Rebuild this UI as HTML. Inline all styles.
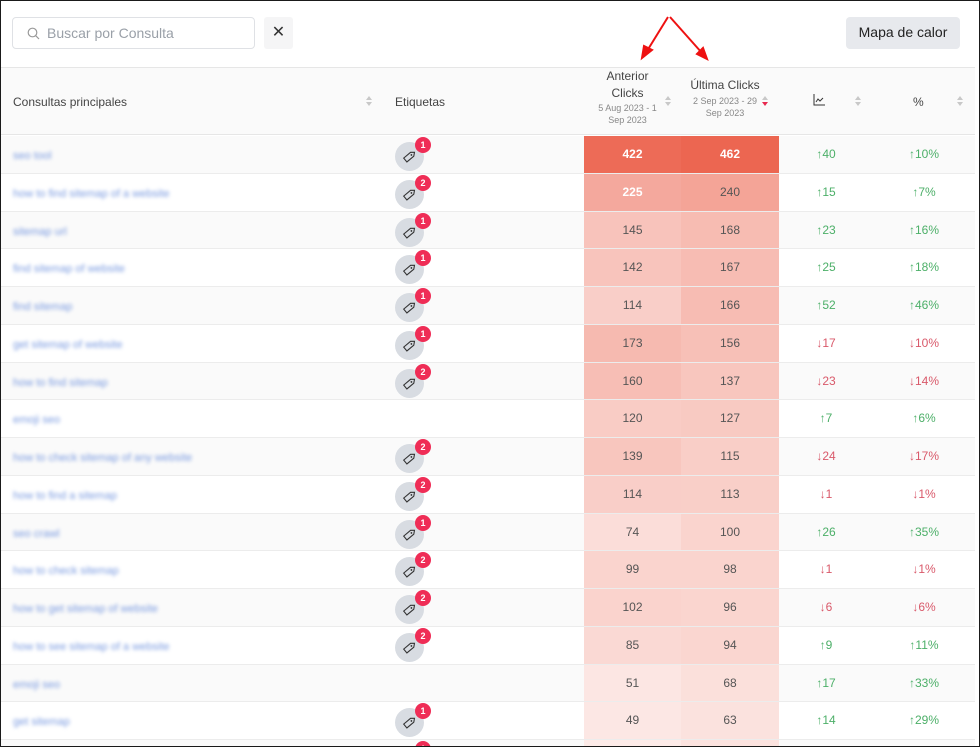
<!DOCTYPE html>
<html><head><meta charset="utf-8">
<style>
*{box-sizing:border-box;margin:0;padding:0}
html,body{width:980px;height:747px;overflow:hidden}
body{background:#fff;font-family:"Liberation Sans",sans-serif;position:relative}
#wrap{position:absolute;left:0;top:0;width:980px;height:747px;overflow:hidden}
#frame{position:absolute;left:0;top:0;width:980px;height:747px;border:1px solid #1a1a1a;pointer-events:none;z-index:10}
.abs{position:absolute}
#search{left:12px;top:17px;width:243px;height:32px;border:1px solid #dfe1e5;border-radius:4px}
#search span{position:absolute;left:34px;top:7px;font-size:14px;color:#9aa0a8}
#clear{left:264px;top:17px;width:29px;height:32px;background:#f5f5f6;border-radius:3px;font-size:16px;color:#333;text-align:center;line-height:31px}
#heat{left:846px;top:17px;width:114px;height:32px;background:#e7e9ed;border-radius:4px;font-size:14px;color:#222;text-align:center;line-height:31px}
#thead{left:0;top:67px;width:975px;height:68px;background:#fafafa;border-top:1px solid #e6e6e6;border-bottom:1px solid #e6e6e6}
.th{position:absolute;font-size:12px;color:#444}
.sub{font-size:9px;color:#888;line-height:12px}
.sort{position:absolute;width:7px;height:12px}
.sort:before{content:"";position:absolute;left:0;top:0;border-left:3.5px solid transparent;border-right:3.5px solid transparent;border-bottom:4px solid #c8c8c8}
.sort:after{content:"";position:absolute;left:0;top:6px;border-left:3.5px solid transparent;border-right:3.5px solid transparent;border-top:4px solid #c8c8c8}
.sort.act:after{border-top-color:#e8294f}
.row{position:absolute;left:0;width:975px;border-bottom:1px solid #ececec}
.q{position:absolute;left:13px;top:2px;font-size:11px;color:#7b9be0;filter:blur(1.8px)}
.cell{position:absolute;top:0;height:100%;font-size:12px;color:#555;text-align:center}
.tag{position:absolute;left:395px;width:29px;height:29px;border-radius:50%;background:#d8dce2}
.badge{position:absolute;left:415px;width:16px;height:16px;border-radius:50%;background:#ef2d56;color:#fff;font-size:9px;font-weight:bold;text-align:center;line-height:16px}
.up{color:#4caf68}.dn{color:#d9596a}
</style></head><body>
<div id="wrap">
<div id="frame"></div>
<div id="search" class="abs">
<svg style="position:absolute;left:14px;top:9px" width="13" height="13" viewBox="0 0 13 13"><circle cx="5.5" cy="5.5" r="4.3" fill="none" stroke="#999" stroke-width="1.2"/><line x1="8.6" y1="8.6" x2="12" y2="12" stroke="#999" stroke-width="1.2"/></svg>
<span>Buscar por Consulta</span></div>
<div id="clear" class="abs">✕</div>
<div id="heat" class="abs">Mapa de calor</div>
<svg class="abs" style="left:630px;top:14px" width="80" height="50">
<g stroke="#e11" stroke-width="2" fill="#e11"><line x1="38" y1="3" x2="17" y2="37"/><polygon points="12,44 14,32 22,36"/><line x1="40" y1="3" x2="72" y2="39"/><polygon points="77,45 67,40 73,34"/></g></svg>
<div id="thead" class="abs">
<div class="th" style="left:13px;top:27px">Consultas principales</div>
<div class="sort" style="left:366px;top:28px"></div>
<div class="th" style="left:395px;top:27px">Etiquetas</div>
<div class="th" style="left:590px;top:0px;width:75px;text-align:center;line-height:17px">Anterior<br>Clicks<div class="sub">5 Aug 2023 - 1<br>Sep 2023</div></div>
<div class="sort" style="left:665px;top:28px"></div>
<div class="th" style="left:686px;top:9px;width:78px;text-align:center;line-height:16px">Última Clicks<div class="sub" style="margin-top:2px">2 Sep 2023 - 29<br>Sep 2023</div></div>
<div class="sort act" style="left:762px;top:28px"></div>
<svg class="abs" style="left:813px;top:26px" width="12" height="12"><polyline points="1,0 1,11 12,11" fill="none" stroke="#333"/><polyline points="3,8 5,5 7,7 10,4" fill="none" stroke="#333"/></svg>
<div class="sort" style="left:855px;top:28px"></div>
<div class="th" style="left:913px;top:27px">%</div>
<div class="sort" style="left:957px;top:28px"></div>
</div>
<div id="rows"></div>
</div>
<script>
const queries=["seo tool","how to find sitemap of a website","sitemap url","find sitemap of website","find sitemap","get sitemap of website","how to find sitemap","emoji seo","how to check sitemap of any website","how to find a sitemap","seo crawl","how to check sitemap","how to get sitemap of website","how to see sitemap of a website","emoji seo","get sitemap","sitemap"];
const tags=[1,2,1,1,1,1,2,0,2,2,1,2,2,2,0,1,1];
const prevClicks=[422,225,145,142,114,173,160,120,139,114,74,99,102,85,51,49,40];
const lastClicks=[462,240,168,167,166,156,137,127,115,113,100,98,96,94,68,63,60];
const pctChange=[10,7,16,18,46,-10,-14,6,-17,-1,35,-1,-6,11,33,29,0];
const maxV=440,top0=136,rh=37.75;
function heat(v){const f=Math.min(1,Math.pow(v/maxV,0.85));const c=[236,102,81];return `rgb(${Math.round(255+(c[0]-255)*f)},${Math.round(255+(c[1]-255)*f)},${Math.round(255+(c[2]-255)*f)})`;}
const R=document.getElementById('rows');
queries.forEach((q,i)=>{
const r=document.createElement('div');


r.className='row';r.style.top=(top0+i*rh)+'px';r.style.height=rh+'px';r.style.background=i%2?'#fff':'#fafafa';
const lh='line-height:'+(rh-1)+'px';
const d=lastClicks[i]-prevClicks[i],p=pctChange[i];
let h=`<div class="q" style="${lh}">${q}</div>`;
if(tags[i])h+=`<div class="tag" style="top:6px"><svg width="29" height="29"><g transform="rotate(-40 14.5 14.5)"><path d="M9 12 h9 l3 2.5 l-3 2.5 h-9z" fill="none" stroke="#333" stroke-width="1.1"/><circle cx="17" cy="14.5" r="0.9" fill="#333"/></g></svg></div><div class="badge" style="top:1px">${tags[i]}</div>`;
h+=`<div class="cell" style="left:584px;width:97px;${lh};background:${heat(prevClicks[i])};color:${prevClicks[i]>200?'#fff':'#555'};font-weight:${prevClicks[i]>200?'bold':'normal'}">${prevClicks[i]}</div>`;
h+=`<div class="cell" style="left:681px;width:98px;${lh};background:${heat(lastClicks[i])};color:${lastClicks[i]>300?'#fff':'#555'};font-weight:${lastClicks[i]>300?'bold':'normal'}">${lastClicks[i]}</div>`;
h+=`<div class="cell ${d>=0?'up':'dn'}" style="left:779px;width:94px;${lh}">${d>=0?'↑':'↓'}${Math.abs(d)}</div>`;
h+=`<div class="cell ${p>=0?'up':'dn'}" style="left:873px;width:102px;${lh}">${p>=0?'↑':'↓'}${Math.abs(p)}%</div>`;
r.innerHTML=h;R.appendChild(r);
});
</script>
</body></html>
